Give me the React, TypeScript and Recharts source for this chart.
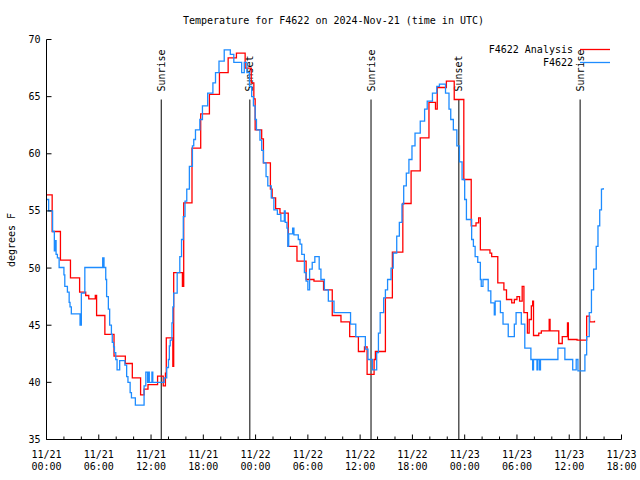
import React from 'react';
import { LineChart, Line, XAxis, YAxis, ReferenceLine, Legend } from 'recharts';

const FONT = '"DejaVu Sans Mono", "Liberation Mono", monospace';

// hours after 11/21 00:00 UTC where each series steps to a new value
const analysisHours = [
  0, 0.65, 1.6, 2.75, 3.8, 4.5, 4.85, 5.6, 5.75, 6.7, 7.75, 9.05, 9.85, 10.8, 11.2, 11.65, 12.75,
  13.4, 13.65, 13.75, 14.5, 14.6, 15.6, 15.75, 16.7, 17.7, 18.7, 19.85, 20.85, 21.8, 22.8, 23.5,
  23.8, 23.95, 24.7, 24.9, 25.7, 25.9, 26.3, 26.8, 27.75, 28.75, 29.8, 30.7, 31.8, 32.8, 33.8,
  34.8, 35.8, 36.5, 36.8, 37.6, 37.75, 38.9, 39.7, 40.9, 41.85, 42.9, 43.9, 44.65, 44.85, 45.9,
  46.8, 47.9, 48.75, 49.3, 49.6, 49.8, 50.9, 51.1, 51.8, 52.5, 52.8, 53.4, 53.7, 54.0, 54.3,
  54.6, 54.8, 55.2, 55.4, 55.65, 55.8, 55.9, 56.5, 56.8, 57.7, 57.8, 58.8, 59.2, 59.8, 59.9,
  60.9, 62.0, 62.35, 62.9,
];
const analysisTemps = [
  56.4, 53.2, 50.7, 49.15, 47.9, 47.6, 47.3, 47.6, 45.85, 44.2, 42.3, 41.65, 40.4, 38.9, 39.4, 39.8, 40.55,
  39.7, 40.8, 43.9, 41.4, 49.6, 48.4, 55.7, 60.5, 63.5, 65.2, 67.1, 68.4, 68.8, 67.5, 66.2,
  64.8, 62.1, 61.3, 59.2, 56.9, 56.15, 55.2, 54.8, 51.9, 50.6, 49.0, 48.85, 48.1, 45.85, 45.3,
  44.0, 42.7, 43.1, 40.7, 42.0, 42.7, 47.4, 51.4, 55.65, 58.5, 61.4, 64.5, 63.9, 65.8, 66.35,
  64.75, 57.75, 53.7, 53.95, 54.4, 51.6, 51.3, 51.0, 48.7, 48.1, 47.25, 46.95, 47.25, 47.5, 47.1,
  48.4, 46.1, 44.3, 45.5, 46.7, 47.1, 44.1, 44.3, 44.5, 45.5, 44.5, 43.4, 44.0, 45.2, 43.75,
  43.7, 45.8, 45.3, 45.4,
];

const obsHours = [
  0, 0.25, 0.7, 0.9, 1.0, 1.1, 1.25, 1.45, 2.0, 2.1, 2.4, 2.6, 2.7, 2.85, 3.85, 4.0, 4.4, 6.45,
  6.6, 6.8, 6.9, 7.1, 7.25, 7.45, 7.55, 7.7, 7.8, 7.95, 8.1, 8.4, 9.0, 9.2, 9.35, 9.6, 9.75, 10.2,
  11.2, 11.4, 11.6, 11.65, 11.8, 12.1, 12.2, 13.5, 13.8, 14.0, 14.1, 14.2, 14.4, 14.5, 14.6, 15.0,
  15.3, 15.5, 15.7, 15.9, 16.1, 16.4, 16.75, 16.9, 17.1, 17.6, 17.9, 18.5, 19.1, 19.4, 19.8, 20.4,
  21.1, 21.5, 22.4, 22.7, 23.0, 23.3, 23.55, 23.75, 23.95, 24.1, 24.5, 24.7, 24.9, 25.2, 25.4,
  25.8, 26.1, 26.5, 26.9, 27.3, 27.4, 27.6, 27.7, 27.8, 28.25, 28.4, 28.9, 29.1, 29.3, 29.6, 29.8,
  30.0, 30.2, 30.5, 30.8, 31.3, 31.5, 31.9, 32.35, 33.0, 34.9, 35.5, 36.6, 36.9, 37.4, 37.9, 38.1,
  38.3, 38.7, 38.9, 39.15, 39.55, 39.8, 40.2, 40.5, 40.8, 41.0, 41.3, 41.6, 41.95, 42.3, 42.9,
  43.4, 43.7, 44.3, 44.8, 45.1, 45.8, 46.2, 46.4, 46.7, 47.1, 47.4, 47.7, 48.0, 48.2, 48.8, 49.0,
  49.2, 49.5, 49.8, 49.9, 50.1, 50.7, 51.0, 51.4, 51.5, 52.1, 52.4, 53.0, 53.7, 53.9, 54.5, 54.9,
  55.6, 55.8, 55.9, 56.3, 56.4, 56.6, 56.7, 58.7, 59.5, 60.4, 60.8, 61.0, 61.8, 62.0, 62.3,
  62.55, 62.8, 63.1, 63.3, 63.5, 63.7, 63.9,
];
const obsTemps = [
  56.0, 55.0, 53.2, 51.5, 52.4, 51.2, 50.9, 50.05, 49.4, 48.4, 47.9, 47.0, 46.6, 46.0, 45.0, 47.8, 50.05, 50.9,
  50.05, 49.0, 47.5, 46.4, 45.0, 44.2, 43.5, 43.1, 42.6, 42.0, 41.1, 41.9, 41.5, 40.5, 40.0, 39.1, 38.65, 38.0,
  39.7, 40.9, 40.0, 40.9, 40.0, 40.9, 40.0, 40.4, 41.3, 42.0, 43.2, 43.7, 45.2, 46.6, 47.8, 49.6,
  51.0, 52.5, 54.5, 55.85, 56.9, 58.9, 60.7, 61.25, 62.1, 63.0, 64.2, 65.3, 66.2, 67.1, 68.1, 69.1,
  68.7, 68.0, 67.1, 68.0, 67.1, 65.9, 65.0, 64.2, 63.0, 62.1, 61.2, 60.3, 59.2, 58.0, 57.2,
  56.15, 55.1, 54.7, 54.1, 55.0, 54.0, 53.5, 51.9, 53.0, 53.5, 52.9, 52.5, 52.1, 51.2, 49.6, 48.85,
  48.1, 49.9, 50.5, 51.0, 49.9, 49.0, 48.1, 47.1, 46.1, 45.1, 44.0, 42.9, 42.0, 41.1, 42.6, 44.3,
  46.1, 47.4, 48.1, 49.0, 50.0, 51.3, 52.8, 54.0, 55.6, 57.2, 58.3, 59.5, 60.7, 61.8, 62.85,
  63.9, 64.6, 65.3, 65.9, 66.1, 65.3, 63.9, 63.0, 62.1, 60.7, 59.3, 57.75, 56.0, 54.25, 52.5, 51.9,
  51.0, 50.5, 49.0, 48.4, 49.0, 48.0, 46.95, 45.9, 47.1, 46.1, 45.1, 44.0, 45.1, 46.1, 45.1, 43.0,
  42.0, 41.1, 42.0, 41.1, 42.0, 41.1, 42.0, 43.0, 42.0, 41.1, 42.0, 41.0, 42.4, 44.0, 46.1,
  48.1, 49.9, 51.9, 53.7, 55.1, 56.9, 57.0,
];

const sunHours = [13.17, 23.34, 37.25, 47.33, 61.25];
const sunLabels = ['Sunrise', 'Sunset', 'Sunrise', 'Sunset', 'Sunrise'];
const sunLineTop = 64.75;

const seriesNames = ['F4622 Analysis', 'F4622'];

const xTicks = [0, 2, 4, 6, 8, 10, 12, 14, 16, 18, 20, 22, 24, 26, 28, 30, 32, 34, 36, 38, 40, 42, 44, 46, 48, 50, 52, 54, 56, 58, 60, 62, 64, 66];
const xLabelHours = [0, 6, 12, 18, 24, 30, 36, 42, 48, 54, 60, 66];
const xLabelDates = ['11/21', '11/21', '11/21', '11/21', '11/22', '11/22', '11/22', '11/22', '11/23', '11/23', '11/23', '11/23'];
const xLabelTimes = ['00:00', '06:00', '12:00', '18:00', '00:00', '06:00', '12:00', '18:00', '00:00', '06:00', '12:00', '18:00'];
const yTicks = [35, 40, 45, 50, 55, 60, 65, 70];

const analysisData = analysisHours.map((h, i) => ({ h, temp: analysisTemps[i] }));
const obsData = obsHours.map((h, i) => ({ h, temp: obsTemps[i] }));

const RED = '#ff0000';
const BLUE = '#1e8cff';

const BottomTick = (props: any) => {
  const { x, y, payload } = props;
  const i = xLabelHours.indexOf(payload.value);
  const len = i >= 0 ? 5 : 3;
  return (
    <g>
      <line x1={x} x2={x} y1={y} y2={y - len} stroke="#000" />
      {i >= 0 && (
        <text x={x} y={y + 18.5} textAnchor="middle" fontFamily={FONT} fontSize={10} fill="#000">
          <tspan x={x}>{xLabelDates[i]}</tspan>
          <tspan x={x} dy={12}>{xLabelTimes[i]}</tspan>
        </text>
      )}
    </g>
  );
};

const TopTick = (props: any) => {
  const { x, y, payload } = props;
  const len = xLabelHours.indexOf(payload.value) >= 0 ? 5 : 3;
  return <line x1={x} x2={x} y1={y} y2={y + len} stroke="#000" />;
};

const LeftTick = (props: any) => {
  const { x, y, payload } = props;
  return (
    <g>
      <line x1={x} x2={x + 5} y1={y} y2={y} stroke="#000" />
      <text x={x - 6} y={y} dy="0.35em" textAnchor="end" fontFamily={FONT} fontSize={10} fill="#000">
        {payload.value}
      </text>
    </g>
  );
};

const RightTick = (props: any) => {
  const { x, y } = props;
  return <line x1={x} x2={x - 5} y1={y} y2={y} stroke="#000" />;
};

const sunShape = (label: string) => (props: any) => {
  const { x1, y1, x2, y2 } = props;
  return (
    <g>
      <line x1={x1} y1={y1} x2={x2} y2={y2} stroke="#000" strokeWidth={1} />
      <text
        transform={`translate(${x1},${y1 - 8}) rotate(-90)`}
        dy="0.35em"
        fontFamily={FONT}
        fontSize={10}
        fill="#000"
      >
        {label}
      </text>
    </g>
  );
};

const renderLegend = (props: any) => {
  const items = [...(props.payload || [])].sort(
    (a: any, b: any) => seriesNames.indexOf(a.value) - seriesNames.indexOf(b.value)
  );
  return (
    <svg width={170} height={30}>
      {items.map((item: any, i: number) => (
        <g key={i}>
          <text x={113} y={9.5 + i * 13} dy="0.35em" textAnchor="end" fontFamily={FONT} fontSize={10} fill="#000">
            {item.value}
          </text>
          <line x1={120} x2={150} y1={9.5 + i * 13} y2={9.5 + i * 13} stroke={item.color} strokeWidth={1.3} />
        </g>
      ))}
    </svg>
  );
};

export default function App() {
  return (
    <div style={{ position: 'absolute', left: 0, top: 0, width: 640, height: 480, background: '#fff' }}>
      <LineChart width={640} height={480} margin={{ top: 39.5, right: 18.5, bottom: 0, left: 0 }}>
        <XAxis
          dataKey="h"
          type="number"
          domain={[0, 66]}
          ticks={xTicks}
          interval={0}
          height={40.5}
          tickSize={0}
          tickMargin={0}
          axisLine={{ stroke: '#000' }}
          tickLine={false}
          tick={<BottomTick />}
          allowDuplicatedCategory={false}
        />
        <XAxis
          xAxisId="top"
          orientation="top"
          dataKey="h"
          type="number"
          domain={[0, 66]}
          ticks={xTicks}
          interval={0}
          height={0}
          tickSize={0}
          tickMargin={0}
          axisLine={{ stroke: '#000' }}
          tickLine={false}
          tick={<TopTick />}
        />
        <YAxis
          type="number"
          domain={[35, 70]}
          ticks={yTicks}
          interval={0}
          width={46.5}
          tickSize={0}
          tickMargin={0}
          axisLine={{ stroke: '#000' }}
          tickLine={false}
          tick={<LeftTick />}
        />
        <YAxis
          yAxisId="right"
          orientation="right"
          type="number"
          domain={[35, 70]}
          ticks={yTicks}
          interval={0}
          width={0}
          tickSize={0}
          tickMargin={0}
          axisLine={{ stroke: '#000' }}
          tickLine={false}
          tick={<RightTick />}
        />
        {sunHours.map((h, i) => (
          <ReferenceLine
            key={i}
            segment={[{ x: h, y: sunLineTop }, { x: h, y: 35 }]}
            shape={sunShape(sunLabels[i])}
          />
        ))}
        <Line
          data={analysisData}
          dataKey="temp"
          name={seriesNames[0]}
          type="stepAfter"
          stroke={RED}
          strokeWidth={1.3}
          dot={false}
          isAnimationActive={false}
        />
        <Line
          data={obsData}
          dataKey="temp"
          name={seriesNames[1]}
          type="stepAfter"
          stroke={BLUE}
          strokeWidth={1.3}
          dot={false}
          isAnimationActive={false}
        />
        <Legend
          layout="vertical"
          align="center"
          verticalAlign="middle"
          content={renderLegend}
          wrapperStyle={{ position: 'absolute', left: 460, top: 40, width: 170, height: 30 }}
        />
      </LineChart>
      <svg width={640} height={480} style={{ position: 'absolute', left: 0, top: 0, pointerEvents: 'none' }}>
        <text x={333.5} y={24} textAnchor="middle" fontFamily={FONT} fontSize={10} fill="#000">
          Temperature for F4622 on 2024-Nov-21 (time in UTC)
        </text>
        <text transform="translate(11,240) rotate(-90)" dy="0.35em" textAnchor="middle" fontFamily={FONT} fontSize={10} fill="#000">
          degrees F
        </text>
      </svg>
    </div>
  );
}
